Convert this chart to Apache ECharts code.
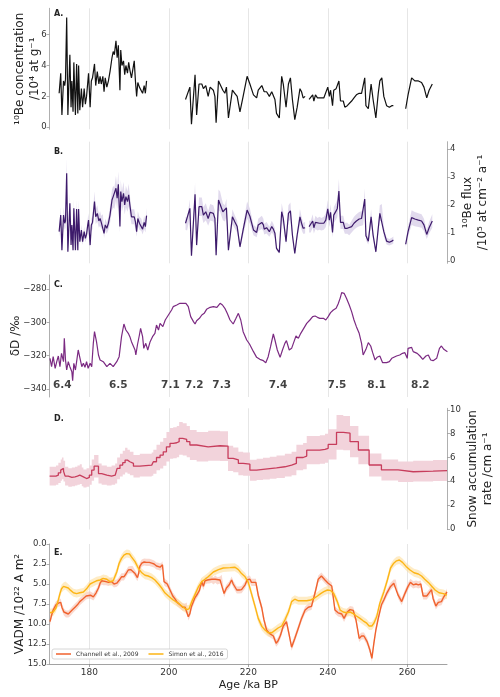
<!DOCTYPE html>
<html><head><meta charset="utf-8">
<script src="https://cdn.jsdelivr.net/npm/echarts@6/dist/echarts.min.js"></script>
<style>html,body{margin:0;padding:0;background:#fff}#c{width:500px;height:697px}</style>
</head><body><div id="c"></div>
<script>
// ---------- DATA ----------
const xTicks = [180, 200, 220, 240, 260];

// Panels A & B: 10Be (null = gap)
const beAges = [172.4,172.8,173.1,173.5,173.8,174.0,174.3,174.6,175.1,175.4,175.6,175.9,176.1,176.5,176.8,177.1,177.3,177.6,178.0,178.3,178.7,179.0,179.3,179.6,179.8,180.2,180.5,180.8,181.3,181.6,182.0,182.4,182.7,183.0,183.4,183.7,184.0,184.4,184.8,185.2,185.7,186.0,186.3,186.7,187.0,187.3,187.7,187.9,188.2,188.6,188.9,189.2,189.6,189.9,190.2,190.6,191.3,191.6,191.9,192.2,192.6,193.1,193.4,193.8,194.1,194.4,
  null,
  204.2,204.6,205.3,205.7,206.6,207.0,207.6,208.3,208.7,209.3,209.9,210.4,211.2,211.6,211.9,212.5,212.9,213.6,214.1,214.5,215.0,216.0,216.6,217.2,217.9,218.7,219.7,220.4,
  221.3,222.1,222.5,223.4,223.8,224.0,224.6,225.3,225.9,226.3,226.7,227.1,227.8,228.4,228.8,229.5,230.1,230.6,231.1,231.7,232.3,233.0,233.4,233.8,234.3,
  null,
  235.3,235.7,236.2,236.5,236.9,237.4,237.9,238.4,239.0,239.5,240.0,240.4,240.7,241.2,241.5,242.1,242.4,242.8,243.2,243.9,244.3,244.9,245.4,246.0,246.6,247.2,247.9,248.5,248.9,249.3,249.6,250.2,250.9,251.4,252.1,252.7,253.1,253.6,254.1,254.8,255.5,256.1,256.5,
  null,
  259.6,260.2,261.1,261.9,262.8,263.6,264.2,264.9,265.5,266.3];
const beConc = [2.2,3.5,0.8,3.0,2.7,3.1,7.1,0.8,4.7,1.3,3.0,1.0,4.2,0.8,4.1,0.9,4.0,1.1,2.5,1.3,2.5,1.5,2.0,2.9,3.5,1.3,3.0,3.2,4.1,2.7,3.6,2.8,3.3,2.8,3.3,2.3,3.2,2.6,3.0,3.6,4.5,4.9,4.7,5.6,4.5,5.3,2.4,5.0,4.0,4.3,3.4,4.0,3.5,4.2,3.7,3.2,4.3,3.0,2.0,2.9,2.6,2.5,2.2,2.7,2.2,3.0,
  null,
  1.8,1.8,2.6,0.2,3.4,0.8,2.8,2.8,2.5,2.7,2.0,2.6,2.4,2.0,0.3,3.0,3.1,2.4,2.2,2.6,0.6,2.4,2.2,2.0,1.0,2.0,3.3,2.8,
  2.1,1.9,2.4,2.7,2.7,2.3,2.3,2.0,2.3,2.2,1.8,0.9,0.6,3.3,2.8,1.3,2.8,3.2,1.8,0.5,1.3,2.5,2.3,1.9,2.0,
  null,
  1.8,1.8,2.1,1.7,2.1,1.9,1.9,1.9,1.9,2.0,2.6,2.0,2.4,1.4,2.4,2.5,2.4,3.0,1.7,1.7,1.3,1.4,1.3,1.7,1.9,2.1,2.2,2.2,2.3,3.2,1.4,1.2,2.8,1.8,0.6,2.2,3.0,3.2,2.0,1.4,1.3,1.4,1.4,
  null,
  1.2,2.1,3.2,3.0,3.0,2.9,2.6,1.9,2.4,2.8];
const beFlux = [1.05,1.64,0.39,1.64,1.35,1.43,3.13,0.33,2.06,0.57,1.29,0.39,1.88,0.39,1.86,0.39,1.86,0.69,1.11,0.69,1.05,0.81,0.95,1.29,1.46,0.57,1.29,1.38,2.12,1.58,1.7,1.43,1.52,1.38,1.43,0.99,1.29,1.17,1.35,1.64,2.18,2.3,2.24,2.6,2.24,2.74,1.23,2.48,2.12,2.42,2.0,2.3,2.12,2.36,2.0,1.58,1.58,1.4,1.05,1.52,1.35,1.29,1.14,1.38,1.23,1.62,
  null,
  1.35,1.31,1.88,0.19,2.38,0.57,1.94,1.94,1.64,1.76,1.52,1.74,1.7,1.52,0.21,2.18,2.12,1.76,1.7,1.9,0.39,1.58,1.4,1.23,0.51,1.11,1.82,1.6,
  1.11,1.02,1.29,1.38,1.29,1.14,1.19,1.05,1.23,1.14,0.99,0.45,0.31,1.76,1.52,0.69,1.7,1.79,0.93,0.27,0.93,1.58,1.35,1.17,1.19,
  null,
  1.23,1.23,1.43,1.19,1.38,1.31,1.35,1.31,1.35,1.46,1.86,1.46,1.74,1.02,1.64,1.79,1.88,2.5,1.38,1.38,1.17,1.17,1.11,1.23,1.35,1.43,1.5,1.52,1.55,2.21,0.9,0.71,1.58,0.93,0.33,1.17,1.7,1.74,1.05,0.71,0.67,0.71,0.75,
  null,
  0.6,1.05,1.55,1.5,1.46,1.43,1.29,0.95,1.19,1.43];
const fluxRelErr = 0.17;

// Panel C: deltaD
const dDAges = [170.1,170.5,170.9,171.4,171.8,172.2,172.6,173.0,173.5,173.7,174.0,174.3,174.7,175.1,175.6,175.8,176.1,176.5,176.8,177.2,177.6,178.1,178.5,178.9,179.3,179.7,180.2,180.6,181.0,181.3,181.8,182.3,182.7,183.5,184.4,185.2,186.0,186.9,187.5,188.1,188.7,189.2,189.8,190.2,190.6,191.1,191.5,191.7,192.1,192.6,192.9,193.4,193.7,194.2,194.7,195.3,195.9,196.5,196.9,197.4,197.8,198.5,199.1,199.4,199.9,200.3,200.7,201.1,201.5,202.0,202.8,203.6,204.3,204.9,205.5,206.2,206.6,207.0,207.7,208.3,208.9,209.5,210.4,211.2,212.1,212.9,213.5,214.1,214.7,215.4,216.2,216.9,217.5,218.1,218.7,219.6,220.3,
  221.3,222.1,222.9,223.8,224.4,225.0,225.6,226.3,226.7,227.3,228.0,228.6,229.2,229.6,230.3,230.9,231.5,232.0,232.6,233.2,233.8,234.7,235.5,236.2,236.8,237.4,238.0,238.9,239.5,240.1,240.7,241.4,242.1,242.6,243.1,243.5,244.1,244.7,245.4,246.0,246.6,247.2,247.9,248.5,248.9,249.6,250.2,250.8,251.3,251.9,252.4,253.1,253.8,254.8,255.5,256.1,256.6,257.3,258.1,258.8,259.4,259.8,260.0,260.2,260.7,261.1,261.5,261.9,262.5,263.2,263.9,264.2,264.7,265.3,265.9,266.5,267.4,268.1,268.6,269.2,270.1];
const dDVals = [-321.6,-326.6,-320.6,-327.6,-323.6,-320.2,-326.6,-318.6,-323.6,-309.6,-322.6,-328.6,-323.6,-326.6,-329.6,-335,-324.6,-328.6,-323.6,-316.6,-321,-326.6,-324.6,-327,-323.6,-327.6,-324.6,-326.6,-312.6,-305.6,-311.6,-319.6,-322.6,-323.6,-326.6,-324.6,-326.6,-323.6,-320.6,-308.6,-301,-304.6,-306.6,-308.6,-311.6,-312.6,-316.6,-319.6,-313.6,-307.6,-303.6,-308.6,-315.6,-312.6,-316.6,-311.6,-308.6,-306.6,-301.6,-304.6,-300.6,-302.6,-298.6,-299.6,-295.6,-294.6,-292.6,-290.6,-291.6,-289.6,-288.6,-288.6,-288.6,-290.6,-296.6,-299.6,-301,-299,-297.6,-295.6,-294.6,-292.2,-291,-290.6,-291,-288.6,-289.6,-291.6,-294.6,-298.6,-301,-297.6,-294.6,-298.6,-305.6,-310.6,-313,
  -317.6,-321,-322.2,-323,-324.2,-320.6,-314.6,-307,-310.6,-316.6,-321,-316.6,-312.6,-311,-316.6,-315.6,-311.6,-308.2,-309.6,-306.6,-304.2,-300.6,-298.6,-296.6,-296.2,-297,-297.6,-297.6,-298.6,-296.6,-294.2,-292.6,-291.6,-289,-285.6,-282.2,-282.6,-285.6,-289.6,-293.6,-298.6,-302.6,-306.6,-312.6,-319.6,-316.2,-312.2,-314.2,-318.2,-322.6,-321,-320.2,-324.2,-324.2,-323.6,-321.6,-321.6,-320.2,-319.6,-318.6,-318.2,-318.6,-321.6,-315.6,-316.6,-315,-317.6,-316.6,-318.6,-320.2,-322.2,-323,-320.2,-319.6,-322.6,-323,-321.6,-315.6,-314.2,-316.2,-317.6];
const stageNames = ['6.4','6.5','7.1','7.2','7.3','7.4','7.5','8.1','8.2'];
const stageAges = [173.2,187.3,200.4,206.4,213.3,227.5,242.3,252.3,263.3];
const stageLabelLevel = -337.6;

// Panel D: snow accumulation (step starts)
const snowAges = [170,171.6,172.2,172.8,173.1,173.5,173.9,174.7,175.6,176.4,177.0,177.6,178.1,178.5,179.3,180.0,180.6,181.2,182.3,183.1,184.4,185.6,186.5,187.0,187.7,188.4,189.0,189.6,190.2,191.1,192.7,195.7,196.1,196.9,197.8,198.6,199.4,200.3,201.1,202.0,202.6,203.5,204.5,205.3,207.0,209.9,212.9,214.9,216.2,217.5,218.7,220.4,222.1,223.7,225.4,227.1,229.2,230.9,232.1,233.8,234.7,238.0,239.3,240.1,242.2,243.9,245.6,247.7,250.4,253.5,257.7,261.5,266.5,270];
const snowRate = [4.43,4.51,4.71,4.94,5.08,4.85,4.43,4.32,4.37,4.43,4.51,4.6,4.37,4.23,4.32,4.51,4.94,5.27,4.65,4.51,4.43,4.51,4.65,5.08,5.36,5.56,5.78,5.64,5.5,5.27,5.36,5.44,5.64,6.0,6.2,6.48,6.9,7.19,7.24,7.33,7.61,7.52,7.33,7.05,6.9,6.99,6.96,5.92,5.8,5.5,5.44,4.93,5.0,5.07,5.13,5.22,5.36,5.5,6.0,6.12,6.62,6.68,6.77,7.1,8.12,8.05,7.33,6.63,5.37,4.95,4.8,4.85,4.9,4.9];
const snowRelErr = 0.18;

// Panel E: VADM
const chAges = [170.1,170.5,170.9,171.6,172.2,172.8,173.1,173.6,174.1,174.7,175.1,175.8,176.4,177.0,177.6,178.3,179.2,179.7,180.3,181.0,181.7,182.3,182.7,183.1,183.5,184.2,184.8,185.2,185.6,186.2,186.9,187.3,187.7,188.1,188.7,189.2,189.8,190.4,190.9,191.5,192.1,192.4,192.7,193.2,193.8,194.4,195.1,195.7,196.3,196.9,197.4,197.8,198.2,198.4,198.8,199.2,199.6,200.3,201.0,201.6,202.1,202.8,203.5,204.1,204.5,204.9,205.3,205.7,206.2,206.6,207.2,207.7,208.3,208.7,209.1,209.7,210.2,210.8,211.2,211.7,212.2,212.9,213.3,213.9,214.5,215.2,215.8,216.2,217.1,217.7,218.3,219.2,219.7,220.4,
  220.8,221.9,222.5,223.4,223.9,224.6,225.4,226.3,227.0,227.5,228.1,228.8,229.6,230.3,230.9,231.7,232.6,233.4,234.3,235.1,235.9,236.8,237.6,238.4,239.3,240.1,241.0,241.8,242.6,243.5,244.1,244.9,245.6,246.4,247.1,247.9,248.5,249.1,249.9,250.6,251.1,251.6,252.1,252.7,253.5,254.1,254.9,255.8,256.6,257.1,257.7,258.6,259.4,260.2,260.8,261.5,262.2,262.8,263.4,264.0,264.9,265.5,266.1,266.5,267.2,267.8,268.6,269.2,269.7,270.0];
const chVadm = [9.7,8.9,8.25,7.6,7.4,7.3,7.9,8.5,8.75,8.75,8.6,8.2,7.9,7.6,7.2,6.9,6.5,6.4,6.4,6.6,6.1,5.5,4.9,4.6,4.7,4.7,4.8,4.7,4.7,5.0,4.9,4.7,4.4,4.1,4.1,3.75,3.25,3.2,3.2,3.7,4.2,3.7,2.8,2.4,2.25,2.3,2.3,2.4,2.5,2.75,2.8,2.9,2.75,2.6,4.7,4.9,5.0,5.75,6.5,6.9,7.3,7.6,7.9,7.9,7.75,9.1,8.7,7.8,7.2,6.7,6.25,5.8,4.7,5.3,4.6,4.5,4.5,4.4,4.6,4.4,4.6,4.5,4.3,6.2,5.5,5.1,4.5,5.0,5.75,5.75,5.7,5.1,4.5,4.4,
  4.8,4.8,6.4,8.0,9.4,10.75,11.2,11.5,12.4,12.1,11.4,10.25,9.7,11.4,12.9,11.8,10.5,9.3,8.25,7.9,7.8,6.1,4.4,4.0,4.5,4.9,5.25,8.25,8.6,8.75,9.3,8.5,8.2,8.3,9.5,11.8,11.5,11.5,12.2,13.25,14.3,12.4,10.75,9.3,7.6,7.0,6.1,5.3,4.9,4.9,6.4,7.2,6.2,5.3,4.8,5.1,5.0,5.1,5.0,6.5,6.5,6.1,5.7,6.8,7.75,7.3,7.2,6.6,6.4,6.0];
const siAges = [170.1,170.9,171.6,172.2,172.6,173.0,173.5,174.0,174.7,175.3,176.0,176.8,177.6,178.5,179.3,180.2,181.0,181.8,182.7,183.5,184.4,185.2,186.0,186.9,187.5,188.1,188.7,189.4,190.1,190.6,191.5,192.3,193.2,194.0,194.8,195.7,196.5,197.4,198.2,199.0,199.9,201.1,202.4,203.6,204.5,205.1,205.7,206.6,207.4,208.3,209.1,209.9,211.2,212.5,213.7,215.4,216.6,217.5,218.3,219.2,220.0,
  220.8,221.7,222.5,223.4,224.2,225.0,225.9,226.7,227.5,228.4,229.2,230.1,230.9,231.7,232.6,233.4,234.7,235.7,236.5,237.4,238.2,239.0,239.9,240.7,241.5,242.4,243.1,243.9,244.7,245.6,246.4,247.2,248.1,248.9,249.8,250.4,251.1,251.6,252.3,253.1,254.1,255.0,255.8,256.6,257.3,258.0,258.8,259.7,260.7,261.7,262.8,263.6,264.4,265.3,266.1,267.0,268.0,269.1,270.0];
const siVadm = [8.6,8.5,8.0,7.0,6.2,5.6,5.3,5.2,5.5,5.8,6.1,6.2,6.1,6.0,5.6,5.0,4.8,4.6,4.5,4.3,4.4,4.7,4.6,3.5,2.4,1.8,1.4,1.2,1.25,1.6,2.2,3.0,3.6,3.9,4.0,4.2,4.5,5.0,5.5,6.1,6.5,7.0,7.4,7.9,8.2,8.1,7.3,6.3,5.4,4.7,4.4,4.1,3.5,3.2,3.0,2.95,2.9,3.2,3.7,4.1,4.8,
  6.2,7.8,9.3,10.3,10.75,11.1,11.1,10.8,10.5,10.25,9.5,8.5,7.2,6.9,7.1,7.1,7.1,7.0,6.8,6.5,6.2,5.95,5.75,5.8,6.2,7.2,8.25,8.5,8.6,8.5,8.7,9.0,9.3,9.6,9.9,10.25,10.25,9.9,9.1,7.4,6.0,4.5,3.0,2.4,2.1,2.0,2.3,2.8,3.25,3.6,3.75,4.0,4.4,4.8,5.25,5.75,6.1,6.2,6.4];
const chErr = 0.45, siErr = 0.5;

// ---------- CHART ----------
const FONT = 'DejaVu Sans';
function pairs(xs, ys) {
  return xs.map((x, i) => (x === null || ys[i] === null) ? ['-', '-'] : [x, ys[i]]);
}
function segmentsOf(xs, ys) {
  const segs = []; let s = -1;
  xs.forEach((x, i) => {
    if (x === null || ys[i] === null) { if (s >= 0) { segs.push([s, i - 1]); s = -1; } }
    else if (s < 0) s = i;
  });
  if (s >= 0) segs.push([s, xs.length - 1]);
  return segs;
}
// uncertainty envelope drawn as polygons through the axis scales
function bandSeries(gi, xs, ys, loF, hiF, color, opacity, step) {
  const segs = segmentsOf(xs, ys);
  return {
    type: 'custom', xAxisIndex: gi, yAxisIndex: gi, silent: true, animation: false, z: 1, clip: true,
    data: segs.map(sg => [xs[sg[0]], ys[sg[0]]]),
    renderItem: (params, api) => {
      const sg = segs[params.dataIndex];
      const up = [], dn = [];
      for (let i = sg[0]; i <= sg[1]; i++) {
        if (step && i > sg[0]) {
          up.push(api.coord([xs[i], hiF(ys[i - 1])]));
          dn.push(api.coord([xs[i], loF(ys[i - 1])]));
        }
        up.push(api.coord([xs[i], hiF(ys[i])]));
        dn.push(api.coord([xs[i], loF(ys[i])]));
      }
      return {type: 'polygon', shape: {points: up.concat(dn.reverse())},
        style: {fill: color, opacity: opacity}};
    }
  };
}
const L = 49.6, R = 53;
const grids = [
  {left: L, right: R, top: 8.3, height: 121, outerBoundsMode: 'none', containLabel: false},
  {left: L, right: R, top: 141.7, height: 121.6, outerBoundsMode: 'none', containLabel: false},
  {left: L, right: R, top: 275, height: 122, outerBoundsMode: 'none', containLabel: false},
  {left: L, right: R, top: 408.3, height: 121.2, outerBoundsMode: 'none', containLabel: false},
  {left: L, right: R, top: 544, height: 120, outerBoundsMode: 'none', containLabel: false}
];
function xAx(gi, bottom) {
  return {
    type: 'value', gridIndex: gi, min: 170, max: 270,
    axisLine: {show: bottom, onZero: false, lineStyle: {color: '#8a8a8a', width: 0.8}},
    axisTick: {show: bottom, customValues: xTicks, length: 3, lineStyle: {color: '#8a8a8a', width: 0.8}},
    axisLabel: {show: bottom, customValues: xTicks, fontSize: 9, color: '#333', fontFamily: FONT, margin: 4},
    splitLine: {show: true, lineStyle: {color: '#e3e3e3', width: 0.9}},
    name: bottom ? 'Age /ka BP' : '', nameLocation: 'middle', nameGap: 16, nameMoveOverlap: false,
    nameTextStyle: {fontSize: 11, color: '#222', fontFamily: FONT}
  };
}
function yAx(gi, pos, min, max, ticks, name, gap, fmt, inverse) {
  return {
    type: 'value', gridIndex: gi, position: pos, min: min, max: max, inverse: !!inverse,
    axisLine: {show: true, onZero: false, lineStyle: {color: '#9a9a9a', width: 0.8}},
    axisTick: {show: true, customValues: ticks, length: 3, lineStyle: {color: '#9a9a9a', width: 0.8}},
    axisLabel: {show: true, customValues: ticks, fontSize: 8.5, color: '#333', fontFamily: FONT, margin: 3, formatter: fmt},
    splitLine: {show: false},
    name: name, nameLocation: 'middle', nameRotate: 90, nameGap: gap, nameMoveOverlap: false,
    nameTextStyle: {fontSize: 12, color: '#222', fontFamily: FONT, lineHeight: 15}
  };
}
const minus = v => String(v).replace('-', '\u2212');
const base = {type: 'line', showSymbol: false, symbol: 'none', silent: true, animation: false, z: 3};

const series = [
  Object.assign({}, base, {name: 'conc', xAxisIndex: 0, yAxisIndex: 0, data: pairs(beAges, beConc),
    lineStyle: {color: '#111', width: 1.2}, itemStyle: {color: '#111'}}),
  bandSeries(1, beAges, beFlux, v => v * (1 - fluxRelErr), v => v * (1 + fluxRelErr), '#dcd3ea', 0.85, false),
  Object.assign({}, base, {name: 'flux', xAxisIndex: 1, yAxisIndex: 1, data: pairs(beAges, beFlux),
    lineStyle: {color: '#3d1a6b', width: 1.2}, itemStyle: {color: '#3d1a6b'}}),
  Object.assign({}, base, {name: 'dD', xAxisIndex: 2, yAxisIndex: 2, data: pairs(dDAges, dDVals),
    lineStyle: {color: '#7b2a82', width: 1.2}, itemStyle: {color: '#7b2a82'}}),
  {type: 'scatter', name: 'stages', xAxisIndex: 2, yAxisIndex: 2, silent: true, animation: false,
    symbolSize: 1, itemStyle: {color: 'rgba(0,0,0,0)'},
    data: stageAges.map((a, i) => ({value: [a, stageLabelLevel], name: stageNames[i]})),
    label: {show: true, position: 'inside', formatter: p => p.name, fontSize: 10.5, fontWeight: 'bold',
      color: '#111', fontFamily: FONT}},
  bandSeries(3, snowAges, snowRate, v => v * (1 - snowRelErr), v => v * (1 + snowRelErr), '#f2d3db', 1, true),
  Object.assign({}, base, {name: 'snow', xAxisIndex: 3, yAxisIndex: 3, step: 'end', data: pairs(snowAges, snowRate),
    lineStyle: {color: '#c73d5c', width: 1.3}, itemStyle: {color: '#c73d5c'}}),
  bandSeries(4, chAges, chVadm, v => v - chErr, v => v + chErr, '#f5b9a8', 0.55, false),
  bandSeries(4, siAges, siVadm, v => v - siErr, v => v + siErr, '#fddc98', 0.55, false),
  Object.assign({}, base, {name: 'Channell et al., 2009', xAxisIndex: 4, yAxisIndex: 4, data: pairs(chAges, chVadm),
    lineStyle: {color: '#f0622e', width: 1.4}, itemStyle: {color: '#f0622e'}}),
  Object.assign({}, base, {name: 'Simon et al., 2016', xAxisIndex: 4, yAxisIndex: 4, data: pairs(siAges, siVadm),
    lineStyle: {color: '#fdb515', width: 1.4}, itemStyle: {color: '#fdb515'}})
];

const panelLetters = ['A.', 'B.', 'C.', 'D.', 'E.'];
const letterTops = [10, 148, 281, 415, 549];

const option = {
  backgroundColor: '#fff',
  animation: false,
  textStyle: {fontFamily: FONT},
  title: panelLetters.map((t, i) => ({text: t, left: 54, top: letterTops[i], padding: 0,
    textStyle: {fontSize: 8, fontWeight: 'bold', color: '#222', fontFamily: FONT}})),
  grid: grids,
  xAxis: [xAx(0, false), xAx(1, false), xAx(2, false), xAx(3, false), xAx(4, true)],
  yAxis: [
    yAx(0, 'left', -0.13, 7.7, [0, 2, 4, 6], '\u00b9\u2070Be concentration\n/10\u2074 at g\u207b\u00b9', 7.5),
    yAx(1, 'right', -0.08, 4.26, [0, 1, 2, 3, 4], '\u00b9\u2070Be flux\n/10\u2075 at cm\u207b\u00b2 a\u207b\u00b9', 13),
    yAx(2, 'left', -344.8, -271.6, [-340, -320, -300, -280], '\u03b4D /\u2030', 26.5, minus),
    yAx(3, 'right', -0.06, 10.14, [0, 2, 4, 6, 8, 10], 'Snow accumulation\nrate /cm a\u207b\u00b9', 18),
    yAx(4, 'left', 0, 15, [0, 2.5, 5, 7.5, 10, 12.5, 15], 'VADM /10\u00b2\u00b2 A m\u00b2', 22.5, v => v.toFixed(1), true)
  ],
  legend: {
    left: 52, top: 649, orient: 'horizontal',
    data: ['Channell et al., 2009', 'Simon et al., 2016'],
    icon: 'rect', itemWidth: 15, itemHeight: 1.5, itemGap: 10,
    padding: [2, 4, 2, 4], borderColor: '#cccccc', borderWidth: 0.8, borderRadius: 2,
    backgroundColor: '#fff',
    textStyle: {fontSize: 6, color: '#333', fontFamily: FONT}
  },
  series: series
};
const chart = echarts.init(document.getElementById('c'), null, {renderer: 'canvas'});
chart.setOption(option);
</script>
</body></html>
